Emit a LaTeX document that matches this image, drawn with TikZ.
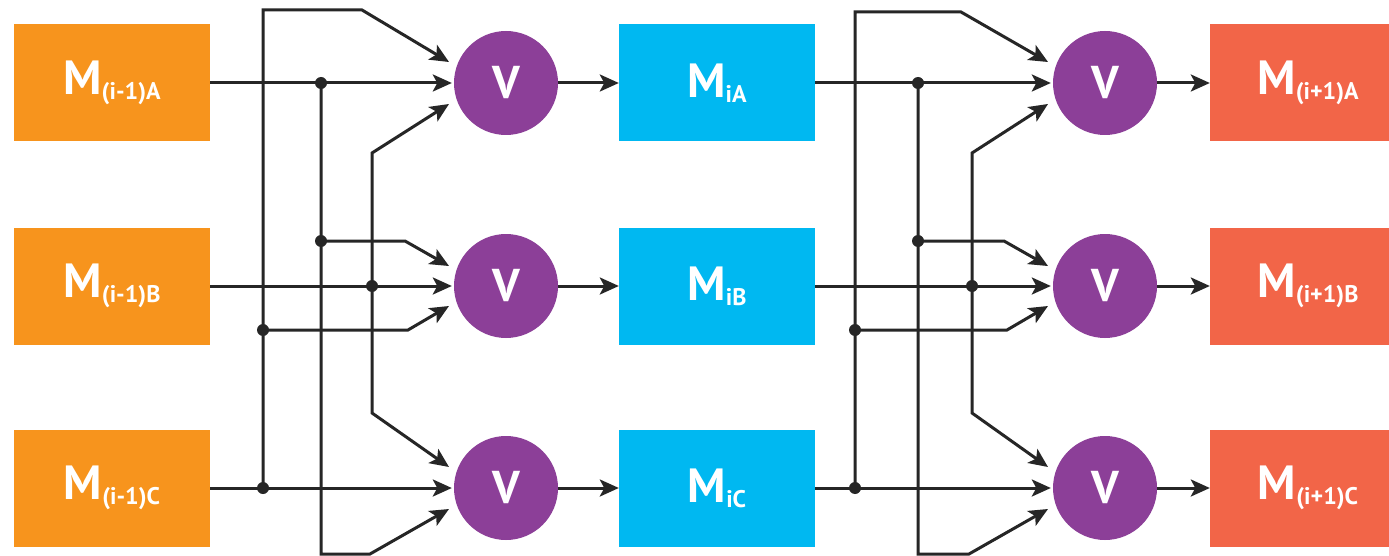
\documentclass[tikz,border=0pt]{standalone}
\usepackage{fontspec}
\setmainfont{PT Sans}
\usetikzlibrary{arrows.meta,calc}
\definecolor{orng}{HTML}{F7941D}
\definecolor{cyanb}{HTML}{00B8F1}
\definecolor{redo}{HTML}{F26548}
\definecolor{purp}{HTML}{8C3F98}
\definecolor{wirec}{HTML}{262626}
\tikzset{
  modbox/.style={minimum width=196pt, minimum height=117pt, inner sep=0pt, text=white, font=\bfseries},
  voter/.style={circle, fill=purp, minimum size=104pt, inner sep=0pt, text=white, font=\bfseries\fontsize{46}{46}\selectfont},
  wire/.style={draw=wirec, line width=3pt, line join=miter},
  arr/.style={-{Stealth[length=19pt,width=17pt,inset=4.5pt]}},
  jdot/.style={circle, fill=wirec, minimum size=12pt, inner sep=0pt}
}
\newcommand\modlabel[1]{{\fontsize{48}{48}\selectfont M}\raisebox{-5pt}{\fontsize{24}{24}\selectfont #1}}
\def\yA{83}
\def\yB{286}
\def\yC{488}
% #1 tag, #2 xC, #3 xA, #4 xB, #5 voter x, #6 source prefix, #7 top y, #8 target prefix
\newcommand\mystage[8]{%
  \node[voter] (#1VA) at (#5,\yA) {V};
  \node[voter] (#1VB) at (#5,\yB) {V};
  \node[voter] (#1VC) at (#5,\yC) {V};
  \coordinate (#1jA) at (#3,\yA);
  \coordinate (#1jB) at (#4,\yB);
  \coordinate (#1jC) at (#2,\yC);
  \coordinate (#1jA2) at (#3,\yB-45);
  \coordinate (#1jC2) at (#2,\yB+44);
  \coordinate (#1cTop) at (#2,#7);
  \coordinate (#1cTopb) at (#5-144,#7);
  \coordinate (#1aBot) at (#3,554);
  \coordinate (#1aBotb) at (#5-136,554);
  \coordinate (#1bTop) at (#4,\yA+70);
  \coordinate (#1bBot) at (#4,\yC-75);
  \coordinate (#1bUb) at (#5-101,\yB-45);
  \coordinate (#1bLb) at (#5-98,\yB+44);
  \coordinate (#1tAU) at ($(#1VA.center)+(-57,-21)$);
  \coordinate (#1tAL) at ($(#1VA.center)+(-57,21)$);
  \coordinate (#1tBU) at ($(#1VB.center)+(-57,-20)$);
  \coordinate (#1tBL) at ($(#1VB.center)+(-57,20)$);
  \coordinate (#1tCU) at ($(#1VC.center)+(-57,-21)$);
  \coordinate (#1tCL) at ($(#1VC.center)+(-57,21)$);
  \coordinate (#1tAM) at ($(#1VA.west)+(-2,0)$);
  \coordinate (#1tBM) at ($(#1VB.west)+(-2,0)$);
  \coordinate (#1tCM) at ($(#1VC.west)+(-2,0)$);
  % straight inputs
  \draw[wire,arr] (#6A.east) -- (#1tAM);
  \draw[wire,arr] (#6B.east) -- (#1tBM);
  \draw[wire,arr] (#6C.east) -- (#1tCM);
  % cross connections
  \draw[wire,arr] (#1jC) -- (#1cTop) -- (#1cTopb) -- (#1tAU);
  \draw[wire,arr] (#1jB) -- (#1bTop) -- (#1tAL);
  \draw[wire,arr] (#1jA2) -- (#1bUb) -- (#1tBU);
  \draw[wire,arr] (#1jC2) -- (#1bLb) -- (#1tBL);
  \draw[wire,arr] (#1jB) -- (#1bBot) -- (#1tCU);
  \draw[wire,arr] (#1jA) -- (#1aBot) -- (#1aBotb) -- (#1tCL);
  % outputs
  \draw[wire,arr] (#1VA.east) -- (#8A.west);
  \draw[wire,arr] (#1VB.east) -- (#8B.west);
  \draw[wire,arr] (#1VC.east) -- (#8C.west);
  % dots
  \node[jdot] (#1dA) at (#1jA) {};
  \node[jdot] (#1dA2) at (#1jA2) {};
  \node[jdot] (#1dB) at (#1jB) {};
  \node[jdot] (#1dC) at (#1jC) {};
  \node[jdot] (#1dC2) at (#1jC2) {};
}
\begin{document}
\begin{tikzpicture}[x=1pt,y=-1pt]
\useasboundingbox (0,0) rectangle (1389,556);
\fill[white] (0,0) rectangle (1389,556);
\node[modbox, fill=orng] (LA) at (112,\yA) {\modlabel{(i-1)A}};
\node[modbox, fill=orng] (LB) at (112,\yB) {\modlabel{(i-1)B}};
\node[modbox, fill=orng] (LC) at (112,\yC) {\modlabel{(i-1)C}};
\node[modbox, fill=cyanb] (MA) at (717,\yA) {\modlabel{iA}};
\node[modbox, fill=cyanb] (MB) at (717,\yB) {\modlabel{iB}};
\node[modbox, fill=cyanb] (MC) at (717,\yC) {\modlabel{iC}};
\begin{scope}
\clip (0,0) rectangle (1389,556);
\node[modbox, fill=redo] (RA) at (1308,\yA) {\modlabel{(i+1)A}};
\node[modbox, fill=redo] (RB) at (1308,\yB) {\modlabel{(i+1)B}};
\node[modbox, fill=redo] (RC) at (1308,\yC) {\modlabel{(i+1)C}};
\end{scope}
\mystage{s}{263}{321}{372}{506}{L}{10}{M}
\mystage{t}{855}{918}{972}{1105}{M}{12}{R}
\end{tikzpicture}
\end{document}
